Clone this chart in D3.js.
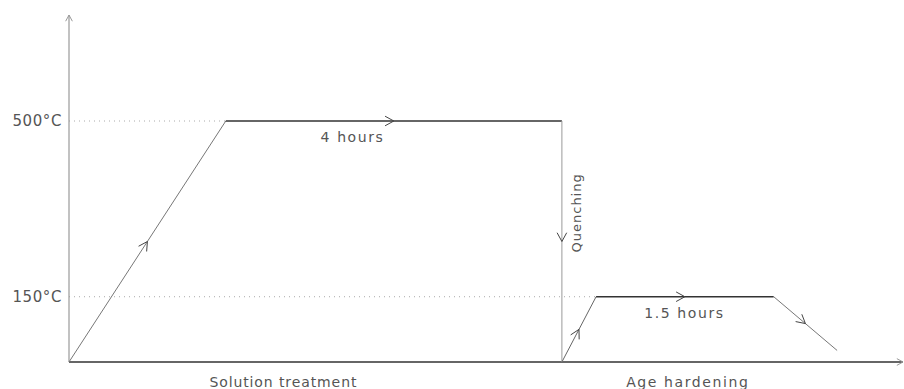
<!DOCTYPE html>
<html>
<head>
<meta charset="utf-8">
<script src="https://cdn.jsdelivr.net/npm/d3@7"></script>
<style>
  html, body { margin: 0; padding: 0; background: #fff; }
  svg { display: block; }
  text { font-family: "DejaVu Sans", sans-serif; fill: #555; }
</style>
</head>
<body>
<svg id="chart" width="904" height="389"></svg>
<script>
// ---- data (schematic time units, temperature in °C) ----
const pathTimes = [0, 18.8, 59.1, 59.1, 63.2, 84.5, 92.1];
const pathTemps = [20, 500, 500, 20, 150, 150, 43];
const segmentColors = ["#777", "#333", "#999", "#666", "#333", "#777"];
const refTemps = [500, 150];
const refEndTimes = [18.8, 63.2];
const tickLabels = ["500°C", "150°C"];
const holdLabels = ["4 hours", "1.5 hours"];
const holdLabelTimes = [34.0, 73.8];
const stageLabels = ["Solution treatment", "Age hardening"];
const stageLabelTimes = [25.7, 74.2];
const stageSpacing = ["0.9px", "1.6px"];
const quenchLabel = "Quenching";

const svg = d3.select("#chart");
const x = d3.scaleLinear().domain([0, 100]).range([69, 903]);
const y = d3.scaleLinear().domain([20, 500]).range([362, 121]);
const yTop = 711;

// dotted reference lines
svg.selectAll("line.ref").data(refTemps).join("line")
  .attr("class", "ref")
  .attr("x1", x(0)).attr("x2", (d, i) => x(refEndTimes[i]))
  .attr("y1", d => y(d)).attr("y2", d => y(d))
  .attr("stroke", "#aaa").attr("stroke-width", 1)
  .attr("stroke-dasharray", "1,4");

// axes lines
svg.append("line").attr("x1", x(0)).attr("x2", x(0))
  .attr("y1", y(20)).attr("y2", y(yTop))
  .attr("stroke", "#999").attr("stroke-width", 1.2);
svg.append("line").attr("x1", x(0)).attr("x2", x(100))
  .attr("y1", y(20)).attr("y2", y(20))
  .attr("stroke", "#333").attr("stroke-width", 1.5);

function chevron(tx, ty, angle, len, color) {
  const a1 = angle + Math.PI - 0.5, a2 = angle + Math.PI + 0.5;
  svg.append("path")
    .attr("d", `M${tx + len*Math.cos(a1)},${ty + len*Math.sin(a1)} L${tx},${ty} L${tx + len*Math.cos(a2)},${ty + len*Math.sin(a2)}`)
    .attr("fill", "none").attr("stroke", color).attr("stroke-width", 1);
}
// axis arrows
chevron(x(0), y(yTop), -Math.PI / 2, 7, "#999");
chevron(x(100), y(20), 0, 7, "#999");

// y axis tick labels via d3 axis
const yAxis = d3.axisLeft(y).tickValues(refTemps).tickSize(0).tickPadding(7)
  .tickFormat((d, i) => tickLabels[i]);
const gY = svg.append("g").attr("transform", `translate(${x(0)},0)`).call(yAxis);
gY.select(".domain").remove();
gY.selectAll("text").style("font-size", "15px").style("fill", "#555")
  .style("font-family", "DejaVu Sans, sans-serif").style("letter-spacing", "0.6px");

// process path segments
const pts = pathTimes.map((t, i) => [x(t), y(pathTemps[i])]);
for (let i = 0; i < pts.length - 1; i++) {
  const [x1, y1] = pts[i], [x2, y2] = pts[i + 1];
  svg.append("line").attr("x1", x1).attr("y1", y1).attr("x2", x2).attr("y2", y2)
    .attr("stroke", segmentColors[i]).attr("stroke-width", i === 1 || i === 4 ? 1.3 : 1);
  const mx = x1 + (x2 - x1) * 0.5, my = y1 + (y2 - y1) * 0.5;
  chevron(mx, my, Math.atan2(y2 - y1, x2 - x1), 10, "#444");
}

// labels
const fontStyle = sel => sel.style("font-size", "14px").style("letter-spacing", "1.6px");
svg.selectAll("text.hold").data(holdLabels).join("text")
  .attr("class", "hold")
  .attr("x", (d, i) => x(holdLabelTimes[i]))
  .attr("y", (d, i) => y(refTemps[i]) + 21)
  .attr("text-anchor", "middle").text(d => d).call(fontStyle);

svg.selectAll("text.stage").data(stageLabels).join("text")
  .attr("class", "stage")
  .attr("x", (d, i) => x(stageLabelTimes[i]))
  .attr("y", 387)
  .attr("text-anchor", "middle").text(d => d).call(fontStyle)
  .style("letter-spacing", (d, i) => stageSpacing[i]);

svg.append("text")
  .attr("transform", `translate(${x(59.1) + 16},${y(317)}) rotate(-90)`)
  .attr("text-anchor", "middle").attr("dominant-baseline", "middle")
  .text(quenchLabel).call(fontStyle).style("font-size", "13px").style("letter-spacing", "1px");
</script>
</body>
</html>
